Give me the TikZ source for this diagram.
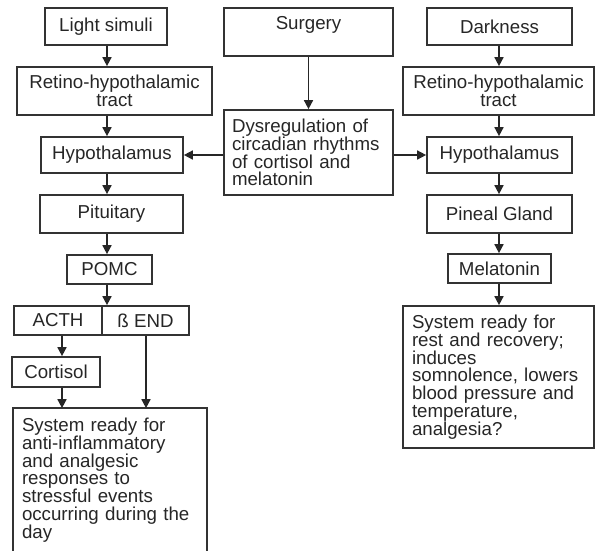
\documentclass[tikz,border=0pt]{standalone}
\usepackage{fontspec}
\setmainfont{Liberation Sans}
\usetikzlibrary{arrows.meta}
\begin{document}
\begin{tikzpicture}[x=1pt,y=-1pt,
  box/.style={draw=black!80, line width=1.7pt, inner sep=0pt, text=black!85,
    font=\fontsize{18.7}{17.8}\selectfont, align=center},
  para/.style={box, align=left},
  arr/.style={draw=black!85, line width=1.6pt, -{Triangle[width=9pt,length=9pt]}},
  ln/.style={draw=black!80, line width=1.7pt}]
\useasboundingbox (0,0) rectangle (595,550);

% left column
\node[box, minimum width=122, minimum height=37] (light) at (106,26.5) {Light simuli};
\node[box, minimum width=195, minimum height=48] (retL) at (114.5,91) {Retino-hypothalamic\\tract};
\node[box, minimum width=142, minimum height=36] (hypL) at (112,155) {Hypothalamus};
\node[box, minimum width=143, minimum height=38] (pit) at (111.5,214) {Pituitary};
\node[box, minimum width=85, minimum height=29] (pomc) at (109.5,269.5) {POMC};
\node[box, minimum width=88, minimum height=29] (acth) at (58,320.5) {ACTH};
\node[box, minimum width=87, minimum height=29] (bend) at (145.5,320.5) {ß END};
\node[box, minimum width=88, minimum height=30] (cort) at (56,372) {Cortisol};
\node[para, draw=none, minimum width=192, minimum height=142, text width=176] (sysL) at (110,480)
  {System ready for\\anti-inflammatory\\and analgesic\\responses to\\stressful events\\occurring during the\\day};
\draw[ln] (sysL.south west) -- (sysL.north west) -- (sysL.north east) -- (sysL.south east);

% middle column
\node[box, minimum width=169, minimum height=48] (surg) at (308.5,32) {Surgery\\\mbox{}};
\node[para, minimum width=169, minimum height=85, text width=153] (dys) at (308.5,152.5)
  {Dysregulation of\\circadian rhythms\\of cortisol and\\melatonin};

% right column
\node[box, minimum width=145, minimum height=37] (dark) at (499.5,26.5) {Darkness};
\node[box, minimum width=191, minimum height=48] (retR) at (498.5,91) {Retino-hypothalamic\\tract};
\node[box, minimum width=145, minimum height=36] (hypR) at (499.5,155) {Hypothalamus};
\node[box, minimum width=145, minimum height=38] (pin) at (499.5,214) {Pineal Gland};
\node[box, minimum width=103, minimum height=29] (mel) at (499.5,268.5) {Melatonin};
\node[para, minimum width=191, minimum height=142, text width=173] (sysR) at (498.5,377)
  {System ready for\\rest and recovery;\\induces\\somnolence, lowers\\blood pressure and\\temperature,\\analgesia?};

% connector columns
\coordinate (cL) at (107,0);
\coordinate (cR) at (499,0);
\coordinate (cA) at (62,0);
\coordinate (cB) at (146,0);

\draw[arr] (light.south -| cL) -- (retL.north -| cL);
\draw[arr] (retL.south -| cL) -- (hypL.north -| cL);
\draw[arr] (hypL.south -| cL) -- (pit.north -| cL);
\draw[arr] (pit.south -| cL) -- (pomc.north -| cL);
\draw[arr] (pomc.south -| cL) -- (acth.north -| cL);
\draw[arr] (acth.south -| cA) -- (cort.north -| cA);
\draw[arr] (cort.south -| cA) -- (sysL.north -| cA);
\draw[arr] (bend.south -| cB) -- (sysL.north -| cB);

\draw[arr] (surg) -- (dys);
\draw[arr] (dys.west |- hypL) -- (hypL.east);
\draw[arr] (dys.east |- hypR) -- (hypR.west);

\draw[arr] (dark.south -| cR) -- (retR.north -| cR);
\draw[arr] (retR.south -| cR) -- (hypR.north -| cR);
\draw[arr] (hypR.south -| cR) -- (pin.north -| cR);
\draw[arr] (pin.south -| cR) -- (mel.north -| cR);
\draw[arr] (mel.south -| cR) -- (sysR.north -| cR);
\end{tikzpicture}
\end{document}
